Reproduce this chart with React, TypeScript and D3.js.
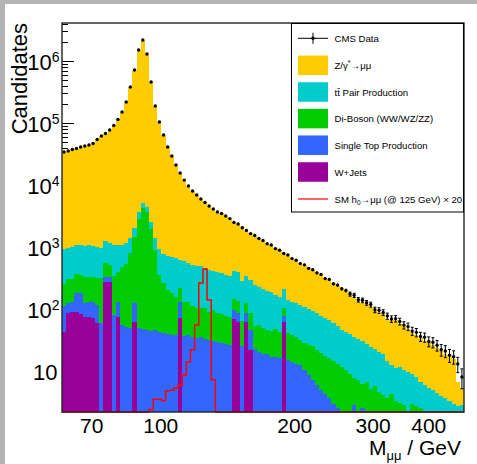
import React from "react";
import * as d3 from "d3";

// ---- binning (log-uniform bins between 60 and 480 GeV) ----
const N_BINS = 97;
const M_MIN = 60;
const M_MAX = 480;

const xTickValues = [70, 100, 200, 300, 400];
const yDecadeExponents = [1, 2, 3, 4, 5, 6];

// ---- series values per bin ----
const zGamma = [
  33000, 34300, 36400, 37700, 40000, 41600, 43100, 45700, 53200, 60700,
  66400, 75900, 90100, 112900, 148900, 216800, 379600, 714000, 1496000, 2175000,
  1296000, 455500, 186600, 103100, 63200, 40300, 28700, 20300, 15000, 11400,
  9090, 7490, 6400, 5460, 4760, 4150, 3690, 3275, 3090, 2810,
  2490, 2130, 1920, 1790, 1474, 1390, 1256, 1175, 1040, 965,
  872, 796, 724, 586, 590, 535, 470, 436, 395, 359,
  325, 309, 276, 244, 227, 204, 182, 172, 152, 141,
  117, 103, 97, 95, 85, 71, 67, 68, 54, 55,
  56, 46, 45, 38, 34, 30, 28, 25, 24, 21,
  19, 18, 15, 14, 12.5, 4, 2.5,
];
const ttPair = [
  680, 652, 687, 694, 727, 694, 732, 694, 691, 649,
  700, 652, 740, 664, 584, 632, 597, 579, 834, 880,
  740, 585, 505, 577, 508, 513, 509, 510, 399, 465,
  422, 401, 390, 390, 355, 337, 314, 309, 297, 276,
  266, 260, 255, 218, 210, 205, 191, 170, 160, 149,
  144, 120, 112, 110, 99, 92, 90, 84, 80, 74,
  68, 64, 57, 55, 50, 45, 40, 34, 32, 31,
  28, 26, 24, 21, 19, 17, 16, 15, 11, 8.3,
  7.9, 8.6, 7.6, 9.6, 6, 5.3, 4.1, 5.9, 5.3, 4.9,
  4.4, 3.9, 3.7, 3.3, 2.9, 2.7, 2.8,
];
const diBoson = [
  145, 182, 176, 185, 172, 203, 198, 198, 196, 257,
  225, 185, 260, 266, 421, 482, 754, 1323, 2784, 4213,
  3624, 1906, 849, 310, 222, 163, 143, 117, 88, 93,
  92, 77, 70, 69, 71, 57, 66, 57, 55, 50,
  48, 48, 47, 39, 40, 40, 30, 35, 30, 27,
  27, 31, 27, 26, 26, 24, 22, 19, 18, 18,
  18, 16, 14.6, 13, 12.6, 11.5, 10.5, 11.6, 10.4, 8.9,
  4.9, 7.2, 3.7, 6.6, 5.1, 5.7, 4.6, 4.1, 3.7, 4.2,
  3.3, 3.0, 2.8, 0, 2.9, 2.7, 2.5, 0, 0, 0,
  0, 0, 0, 0, 0, 0, 0,
];
const singleTop = [
  69, 40, 41, 92, 98, 51, 56, 59, 57, 59,
  55, 55, 80, 56, 55, 51, 49, 63, 49, 47,
  46, 44, 46, 43, 41, 40, 38, 38, 59, 37,
  38, 35, 34, 35, 33, 32, 30, 29, 28, 27,
  26, 26, 25, 25, 24, 23, 23, 20, 19, 19,
  17, 17, 16, 16, 15, 14, 13, 12.5, 10.4, 8.6,
  7.2, 5.9, 4.9, 4.2, 3.6, 2.9, 2.5, 0, 0, 0,
  2.8, 0, 2.5, 0, 0, 0, 0, 0, 0, 0,
  0, 0, 0, 0, 0, 0, 0, 0, 0, 0,
  0, 0, 0, 0, 0, 0, 0,
];
const wJets = [
  43, 85, 89, 89, 83, 74, 74, 71, 59, 0,
  273, 273, 0, 74, 0, 0, 0, 62, 0, 0,
  0, 0, 0, 0, 0, 0, 0, 0, 71, 0,
  0, 0, 0, 0, 0, 0, 0, 0, 0, 0,
  0, 70, 62, 0, 62, 22, 0, 0, 0, 0,
  0, 0, 0, 62, 0, 0, 0, 0, 0, 0,
  0, 0, 0, 0, 0, 0, 0, 0, 0, 0,
  0, 0, 0, 0, 0, 0, 0, 0, 0, 0,
  0, 0, 0, 0, 0, 0, 0, 0, 0, 0,
  0, 0, 0, 0, 0, 0, 0,
];
const higgsX20 = [
  0, 0, 0, 0, 0, 0, 0, 0, 0, 0,
  0, 0, 0, 0, 0, 0, 0, 0, 0, 0,
  0, 2.4, 3.5, 3.5, 3.3, 4.8, 4.9, 5.3, 5.9, 8.6,
  14, 22, 55, 263, 442, 140, 7.2, 0, 0, 0,
  0, 0, 0, 0, 0, 0, 0, 0, 0, 0,
  0, 0, 0, 0, 0, 0, 0, 0, 0, 0,
  0, 0, 0, 0, 0, 0, 0, 0, 0, 0,
  0, 0, 0, 0, 0, 0, 0, 0, 0, 0,
  0, 0, 0, 0, 0, 0, 0, 0, 0, 0,
  0, 0, 0, 0, 0, 0, 0,
];
const cmsData = [
  34000, 35300, 37400, 38800, 41100, 42600, 44200, 46700, 54200, 61700,
  67700, 77100, 91200, 114000, 150000, 218000, 381000, 716000, 1500000, 2180000,
  1300000, 458000, 188000, 104000, 64000, 41000, 29400, 21000, 15600, 12000,
  9640, 8000, 6900, 5950, 5220, 4580, 4100, 3670, 3470, 3160,
  2870, 2490, 2350, 2040, 1850, 1640, 1530, 1370, 1270, 1130,
  1075, 940, 890, 785, 742, 650, 610, 540, 515, 452,
  430, 383, 361, 309, 300, 255, 243, 212, 199, 174,
  166, 141, 138, 126, 118, 97, 95, 88, 77, 69,
  70, 63, 55, 52, 44, 42, 36, 35, 30, 29,
  26, 22, 21, 18, 17, 13, 8,
];

const seriesNames = ["wjets", "singleTop", "diboson", "ttbar", "zgamma"];
const seriesColors: Record<string, string> = {
  zgamma: "#ffcc00",
  ttbar: "#00cccc",
  diboson: "#00cc00",
  singleTop: "#3366ff",
  wjets: "#990099",
};

const FONT = "'Liberation Sans', Arial, Helvetica, sans-serif";

export default function App() {
  const W = 477;
  const H = 464;
  const fx0 = 62, fx1 = 464, fy0 = 23, fy1 = 412;
  const yMin = 2.18, yMax = 4.1e6;

  const x = d3.scaleLog().domain([M_MIN, M_MAX]).range([fx0, fx1]);
  const y = d3.scaleLog().domain([yMin, yMax]).range([fy1, fy0]).clamp(true);
  const yv = (v: number) => y(Math.max(v, yMin));

  const edges = d3.range(N_BINS + 1).map((i) => M_MIN * Math.pow(M_MAX / M_MIN, i / N_BINS));
  const centers = d3.range(N_BINS).map((i) => Math.sqrt(edges[i] * edges[i + 1]));

  const rows = d3.range(N_BINS).map((i) => ({
    wjets: wJets[i],
    singleTop: singleTop[i],
    diboson: diBoson[i],
    ttbar: ttPair[i],
    zgamma: zGamma[i],
  }));
  const stacked = d3.stack<any>().keys(seriesNames)(rows);

  const areaGen = d3
    .area<[number, number]>()
    .x((d) => d[0])
    .y0(fy1)
    .y1((d) => yv(d[1]));
  const lineGen = d3
    .line<[number, number]>()
    .x((d) => d[0])
    .y((d) => yv(d[1]));

  const stepPoints = (tops: number[]): [number, number][] => {
    const pts: [number, number][] = [];
    for (let i = 0; i < N_BINS; i++) {
      pts.push([x(edges[i]), tops[i]]);
      pts.push([x(edges[i + 1]), tops[i]]);
    }
    return pts;
  };

  // stacked layers painted top-most cumulative first
  const layers = [...stacked].reverse().map((s) => ({
    key: s.key,
    d: areaGen(stepPoints(s.map((p) => p[1]))) || "",
  }));

  const higgsPath = lineGen(stepPoints(higgsX20)) || "";

  // y ticks
  const majorTicks = yDecadeExponents.map((e) => Math.pow(10, e));
  const minorTicks: number[] = [];
  for (let e = 0; e <= 6; e++) {
    for (let k = 2; k <= 9; k++) {
      const v = k * Math.pow(10, e);
      if (v > yMin && v < yMax) minorTicks.push(v);
    }
  }

  const legendX = 291.5, legendY = 23.5, legendW = 172, legendH = 188.5;
  const rowYs = [38.3, 65.3, 92, 118.6, 145.2, 172, 199];
  const boxX = 298, boxW = 30, boxH = 19.5;
  const textX = 334.5;
  const lfs = 9.6;

  return (
    <svg
      width={W}
      height={H}
      style={{ position: "absolute", left: 0, top: 0, display: "block" }}
      fontFamily={FONT}
    >
      <rect x={0} y={0} width={W} height={H} fill="#b4b4b4" />
      <rect x={5} y={4} width={W - 5} height={H - 4} fill="#ffffff" />

      {/* y axis ticks (drawn below histograms) */}
      <g stroke="#000" strokeWidth={1}>
        {majorTicks.map((t) => (
          <line key={"M" + t} x1={fx0} x2={fx0 + 12} y1={Math.round(y(t)) + 0.5} y2={Math.round(y(t)) + 0.5} />
        ))}
        {minorTicks.map((t) => (
          <line key={"m" + t} x1={fx0} x2={fx0 + 6} y1={Math.round(y(t)) + 0.5} y2={Math.round(y(t)) + 0.5} />
        ))}
      </g>

      {/* stacked MC */}
      <g shapeRendering="crispEdges">
        {layers.map((l) => (
          <path key={l.key} d={l.d} fill={seriesColors[l.key]} stroke="none" />
        ))}
      </g>

      {/* signal */}
      <path d={higgsPath} fill="none" stroke="#ff0000" strokeWidth={1.5} />

      {/* data */}
      <g>
        {cmsData.map((v, i) => {
          if (!(v > 0)) return null;
          const cx = x(centers[i]);
          const err = Math.sqrt(v);
          const yHi = yv(v + err);
          const yLo = yv(v - err);
          return (
            <g key={"d" + i}>
              <line x1={cx} x2={cx} y1={yHi} y2={yLo} stroke="#000" strokeWidth={1} />
              {yLo - yHi > 4 && (
                <>
                  <line x1={cx - 1.5} x2={cx + 1.5} y1={yHi} y2={yHi} stroke="#000" strokeWidth={1} />
                  <line x1={cx - 1.5} x2={cx + 1.5} y1={yLo} y2={yLo} stroke="#000" strokeWidth={1} />
                </>
              )}
              <circle cx={cx} cy={yv(v)} r={1.7} fill="#000" />
            </g>
          );
        })}
      </g>

      {/* frame */}
      <rect x={fx0} y={fy0} width={fx1 - fx0} height={fy1 - fy0} fill="none" stroke="#222" strokeWidth={1.4} />

      {/* y tick labels */}
      <g fontSize={22} fill="#000">
        {yDecadeExponents.map((e) => {
          const ty = y(Math.pow(10, e));
          return (
            <text key={"yl" + e} x={e === 1 ? 57.5 : 59.5} y={ty + 9.5} textAnchor="end">
              10
              {e > 1 && (
                <tspan fontSize={14} dy={-8.5}>
                  {e}
                </tspan>
              )}
            </text>
          );
        })}
      </g>

      {/* y title */}
      <text
        transform={`translate(27, ${fy0}) rotate(-90)`}
        textAnchor="end"
        fontSize={22}
        fill="#000"
      >
        Candidates
      </text>

      {/* x tick labels */}
      <g fontSize={21} fill="#000" textAnchor="middle">
        {xTickValues.map((t) => (
          <text key={"xl" + t} x={x(t)} y={433}>
            {t}
          </text>
        ))}
      </g>

      {/* x title */}
      <text x={461} y={455} textAnchor="end" fontSize={21} fill="#000">
        M
        <tspan fontSize={13} dy={5}>
          μμ
        </tspan>
        <tspan dy={-5}> / GeV</tspan>
      </text>

      {/* legend */}
      <rect x={legendX} y={legendY} width={legendW} height={legendH} fill="#fff" stroke="#000" strokeWidth={1} />
      <g fontSize={lfs} fill="#000">
        {/* data */}
        <line x1={boxX} x2={boxX + boxW} y1={rowYs[0]} y2={rowYs[0]} stroke="#000" strokeWidth={1} />
        <line x1={boxX + boxW / 2} x2={boxX + boxW / 2} y1={rowYs[0] - 5.5} y2={rowYs[0] + 5.5} stroke="#000" strokeWidth={1} />
        <circle cx={boxX + boxW / 2} cy={rowYs[0]} r={1.7} fill="#000" />
        <text x={textX} y={rowYs[0] + 3.6}>CMS Data</text>

        {["zgamma", "ttbar", "diboson", "singleTop", "wjets"].map((k, j) => (
          <rect
            key={"lb" + k}
            x={boxX}
            y={rowYs[j + 1] - boxH / 2}
            width={boxW}
            height={boxH}
            fill={seriesColors[k]}
          />
        ))}
        <text x={textX} y={rowYs[1] + 3.6}>
          Z/γ<tspan fontSize={7} dy={-3.5}>*</tspan>
          <tspan dy={3.5}>→μμ</tspan>
        </text>
        <text x={textX} y={rowYs[2] + 3.6}>tt̄ Pair Production</text>
        <text x={textX} y={rowYs[3] + 3.6}>Di-Boson (WW/WZ/ZZ)</text>
        <text x={textX} y={rowYs[4] + 3.6}>Single Top Production</text>
        <text x={textX} y={rowYs[5] + 3.6}>W+Jets</text>

        <line x1={boxX} x2={boxX + boxW} y1={rowYs[6]} y2={rowYs[6]} stroke="#ff3333" strokeWidth={1.5} />
        <text x={textX} y={rowYs[6] + 3.6}>
          SM h<tspan fontSize={6.5} dy={2}>0</tspan>
          <tspan dy={-2}>→μμ (@ 125 GeV) × 20</tspan>
        </text>
      </g>
    </svg>
  );
}
